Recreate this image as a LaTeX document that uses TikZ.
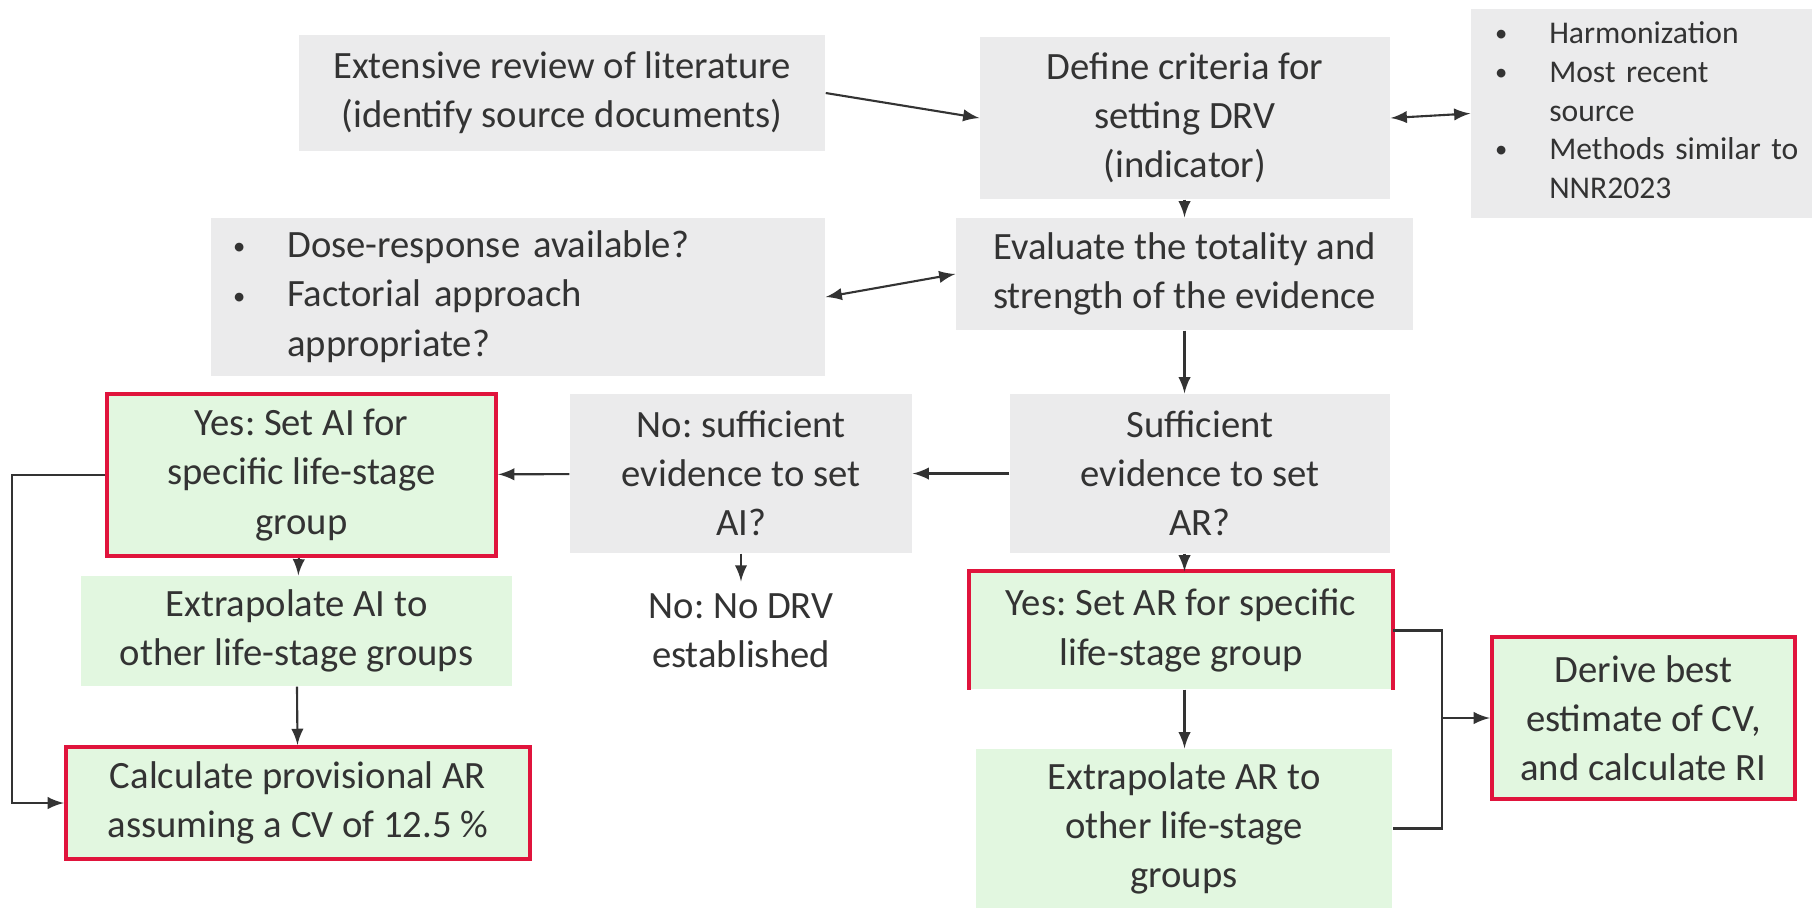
\documentclass[tikz,border=0pt]{standalone}
\usepackage{fontspec}
\setmainfont{Carlito}
\usepackage{xcolor}
\usepackage{tikz}
\usetikzlibrary{positioning}
\definecolor{boxgrey}{HTML}{EBEBEC}
\definecolor{boxgreen}{HTML}{E2F7E0}
\definecolor{edgered}{HTML}{E0143C}
\definecolor{inkgrey}{HTML}{333333}
\newcommand{\smallbul}{\raisebox{0.15ex}{\fontsize{7}{7}\selectfont\textbullet}}
\frenchspacing

\begin{document}
\begin{tikzpicture}[>=latex,font=\fontsize{11}{14}\selectfont,text=inkgrey]
\tikzstyle{greybox}=[rectangle,fill=boxgrey,align=center,inner sep=0pt]
\tikzstyle{greenbox}=[rectangle,fill=boxgreen,align=center,inner sep=0pt]
\tikzstyle{redbox}=[greenbox,draw=edgered,line width=1.2pt]
\tikzstyle{link}=[draw=inkgrey,line width=0.6pt]
\useasboundingbox (0,0) rectangle (18.16,-9.08);
% top row
\node[greybox,minimum width=5.26cm,minimum height=1.16cm] (review) at (5.62,-0.93) {Extensive review of literature\\(identify source documents)};
\node[greybox,minimum width=4.10cm,minimum height=1.62cm] (criteria) at (11.85,-1.18) {Define criteria for\\setting DRV\\(indicator)};
\node[greybox,minimum width=3.41cm,minimum height=2.09cm,text width=2.93cm,align=left,inner xsep=0.24cm,font=\fontsize{9}{11}\selectfont] (harmon) at (16.415,-1.135)
  {\begin{tabular}{@{}l@{\hspace{0.42cm}}l@{}}
   \smallbul & Harmonization\\
   \smallbul & Most recent\\
             & source\\
   \smallbul & Methods similar to\\
             & NNR2023
   \end{tabular}};
% evidence
\node[greybox,minimum width=6.14cm,minimum height=1.58cm,text width=5.70cm,align=left,inner xsep=0.22cm] (dose) at (5.18,-2.97)
  {\begin{tabular}{@{}l@{\hspace{0.42cm}}l@{}}
   \smallbul & Dose-response available?\\
   \smallbul & Factorial approach\\
             & appropriate?
   \end{tabular}};
\node[greybox,minimum width=4.57cm,minimum height=1.12cm] (evaluate) at (11.845,-2.74) {Evaluate the totality and\\strength of the evidence};
% decision row
\node[greybox,minimum width=3.80cm,minimum height=1.59cm] (suffar) at (12.00,-4.735) {Sufficient\\evidence to set\\AR?};
\node[greybox,minimum width=3.42cm,minimum height=1.59cm] (suffai) at (7.41,-4.735) {No: sufficient\\evidence to set\\AI?};
\node[redbox,minimum width=3.89cm,minimum height=1.62cm] (setai) at (3.015,-4.75) {Yes: Set AI for\\specific life-stage\\group};
\node[align=center] (nodrv) at (7.41,-6.31) {No: No DRV\\established};
% AI branch
\node[greenbox,minimum width=4.31cm,minimum height=1.10cm] (extrai) at (2.965,-6.31) {Extrapolate AI to\\other life-stage groups};
\node[redbox,minimum width=4.64cm,minimum height=1.12cm] (calc) at (2.98,-8.03) {Calculate provisional AR\\assuming a CV of 12.5 \%};
% AR branch
\node[greenbox,minimum width=4.22cm,minimum height=1.17cm] (setar) at (11.81,-6.305) {Yes: Set AR for specific\\life-stage group};
\draw[edgered,line width=1.2pt] (setar.south west) -- (setar.north west) -- (setar.north east) -- (setar.south east);
\node[greenbox,minimum width=4.16cm,minimum height=1.59cm] (extrar) at (11.84,-8.285) {Extrapolate AR to\\other life-stage\\groups};
\node[redbox,minimum width=3.03cm,minimum height=1.62cm] (derive) at (16.435,-7.18) {Derive best\\estimate of CV,\\and calculate RI};
\coordinate (join) at (14.42,-7.18);
% connectors
\draw[link,->] (review.east) -- (criteria.west);
\draw[link,<->] (criteria.east) -- (harmon.west);
\draw[link,->] (criteria.south -| evaluate) -- (evaluate.north);
\draw[link,<->] (evaluate.west) -- (dose.east);
\draw[link,->] (evaluate.south) -- (evaluate.south |- suffar.north);
\draw[link,->] (suffar) -- (suffai);
\draw[link,->] (suffai) -- (setai);
\draw[link,->] (suffai) -- (nodrv);
\draw[link,->] (setai) -- (extrai);
\draw[link,->] (extrai) -- (calc);
\draw[link,->] (setai.west) -- ++(-0.93,0) |- (calc.west);
\draw[link,->] (suffar.south -| evaluate) -- (setar.north -| evaluate);
\draw[link,->] (setar.south -| evaluate) -- (extrar.north -| evaluate);
\draw[link] (setar.east) -- (setar.east -| join) -- (extrar.east -| join) -- (extrar.east);
\draw[link,->] (join) -- (derive.west);
\end{tikzpicture}
\end{document}
